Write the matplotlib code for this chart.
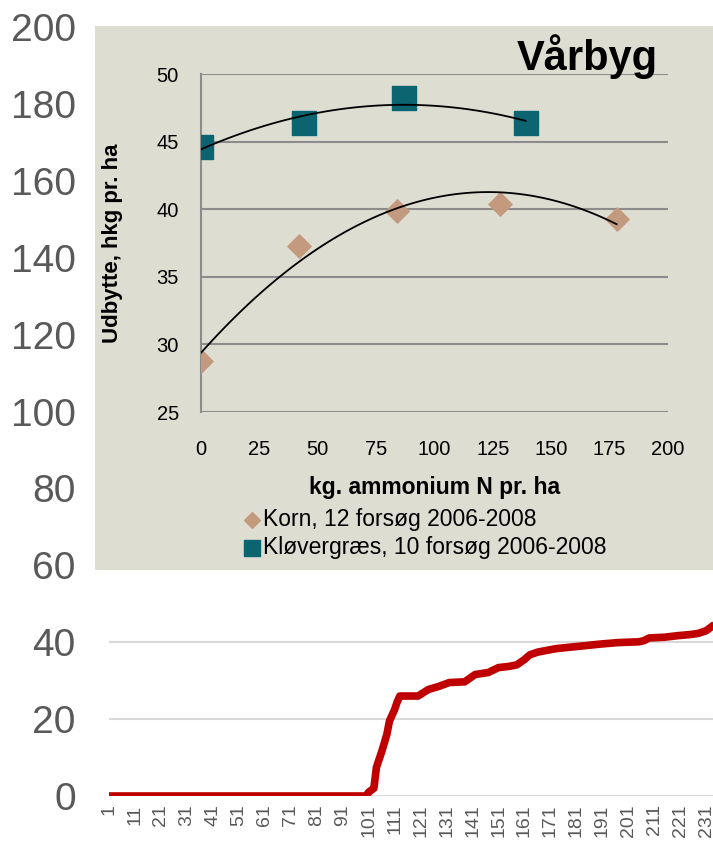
import matplotlib
matplotlib.use('Agg')
import matplotlib.pyplot as plt
import numpy as np

# background line chart (categories 1..233)
line_x = [1, 100, 101, 102, 103, 104, 106, 108, 109, 111, 112, 113, 115, 120, 124,
          128, 132, 138, 142, 147, 151, 155, 158, 161, 163, 166, 169, 173, 177, 183,
          190, 197, 205, 207, 209, 215, 220, 225, 228, 231, 233]
line_y = [0, 0, 1.0, 1.5, 2.0, 7.5, 11.5, 16.0, 19.5, 22.5, 24.5, 26.0, 26.0, 26.0, 27.7,
          28.5, 29.5, 29.7, 31.6, 32.1, 33.4, 33.7, 34.1, 35.5, 36.7, 37.4, 37.8, 38.3, 38.6, 39.0,
          39.5, 39.9, 40.1, 40.4, 41.1, 41.3, 41.7, 42.0, 42.3, 43.0, 44.0]
bg_yticks = [0, 20, 40, 60, 80, 100, 120, 140, 160, 180, 200]
bg_xticks = list(range(1, 232, 10))

# inset: Vårbyg yield vs ammonium N
korn_n = [0, 42, 84, 128, 178]
korn_y = [28.8, 37.3, 39.9, 40.4, 39.3]
klover_n = [0, 44, 87, 139]
klover_y = [44.6, 46.4, 48.2, 46.4]
inset_yticks = [25, 30, 35, 40, 45, 50]
inset_xticks = [0, 25, 50, 75, 100, 125, 150, 175, 200]

plt.rcParams['font.family'] = ['Liberation Sans', 'DejaVu Sans']

W, H = 713, 844
fig = plt.figure(figsize=(W / 100, H / 100), dpi=100)

# ---- background chart
ax = fig.add_axes([109 / W, (H - 796) / H, 1 - 109 / W, (796 - 27) / H], zorder=0)
ax.plot(line_x, line_y, color='#C00000', linewidth=5.5, solid_joinstyle='round')
ax.set_xlim(1, 233.6)
ax.set_ylim(0, 200)
ax.set_yticks(bg_yticks)
ax.set_xticks(bg_xticks)
ax.set_xticklabels([str(t) for t in bg_xticks], rotation=90)
ax.tick_params(axis='y', length=0, pad=24, labelsize=28, labelcolor='#595959')
ax.tick_params(axis='x', length=0, pad=6, labelsize=14, labelcolor='#595959')
ax.grid(axis='y', color='#D9D9D9', linewidth=1.5)
ax.set_axisbelow(True)
for s in ax.spines.values():
    s.set_visible(False)

# ---- grey box behind the inset
box = fig.add_axes([95 / W, (H - 570) / H, 1 - 95 / W, (570 - 26) / H], zorder=1)
box.set_facecolor('#DDDDD2')
box.set_xticks([])
box.set_yticks([])
for s in box.spines.values():
    s.set_visible(False)

# ---- inset scatter chart
ai = fig.add_axes([201 / W, (H - 412) / H, (668 - 201) / W, (412 - 74) / H], zorder=2)
ai.patch.set_alpha(0)
ai.scatter(korn_n, korn_y, marker='D', s=140, color='#C49A7E', zorder=3,
           label='Korn, 12 forsøg 2006-2008')
ai.scatter(klover_n, klover_y, marker='s', s=290, color='#0B6470', zorder=3,
           label='Kløvergræs, 10 forsøg 2006-2008')

# 2nd order trendlines
for nx, ny in [(korn_n, korn_y), (klover_n, klover_y)]:
    c = np.polyfit(nx, ny, 2)
    xs = np.linspace(min(nx), max(nx), 100)
    ai.plot(xs, np.polyval(c, xs), color='black', linewidth=1.3, zorder=4)

ai.set_xlim(0, 200)
ai.set_ylim(25, 50)
ai.set_yticks(inset_yticks)
ai.set_xticks(inset_xticks)
ai.tick_params(axis='both', length=0, labelsize=14.5, labelcolor='black')
ai.tick_params(axis='y', pad=16)
ai.tick_params(axis='x', pad=20)
ai.grid(axis='y', color='#8C8C8C', linewidth=1.5)
ai.set_axisbelow(True)
for k in ['top', 'right', 'bottom']:
    ai.spines[k].set_visible(False)
ai.spines['left'].set_color('#8C8C8C')
ai.spines['left'].set_linewidth(1.5)

ai.set_ylabel('Udbytte, hkg pr. ha', fontsize=16, fontweight='bold')
ai.yaxis.set_label_coords(-0.168, 0.5)
ai.set_xlabel('kg. ammonium N pr. ha', fontsize=16.5, fontweight='bold')
ai.xaxis.set_label_coords(0.5, -0.19)

ai.legend(loc='upper left', bbox_to_anchor=(234 / W, (H - 497) / H), bbox_transform=fig.transFigure,
          frameon=False, fontsize=16.5, handlelength=0.6, handletextpad=0.15,
          labelspacing=0.2, borderpad=0, markerscale=0.68)

fig.text(658 / W, (H - 57) / H, 'Vårbyg', fontsize=30, fontweight='bold',
         ha='right', va='center')

fig.savefig('out.png', dpi=100)
